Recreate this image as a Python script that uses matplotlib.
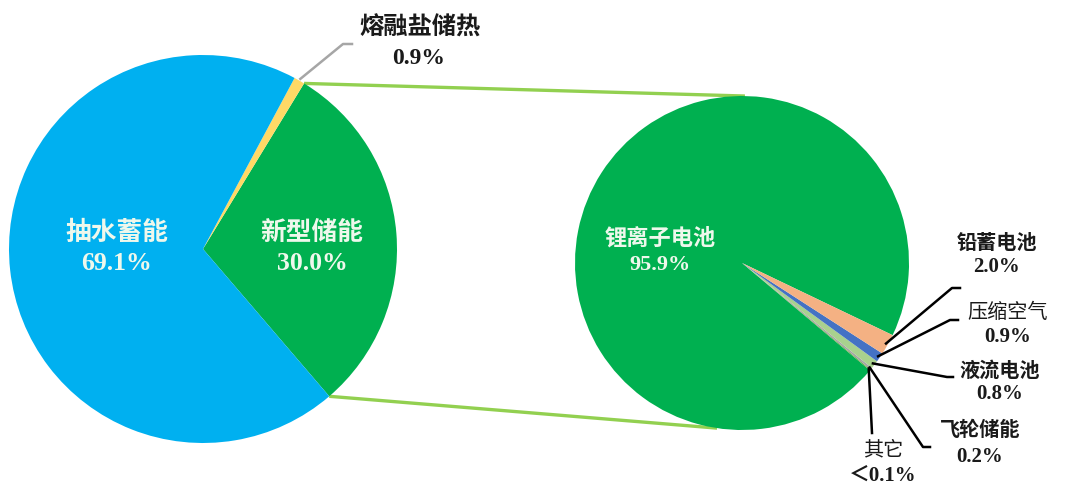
import matplotlib
matplotlib.use("Agg")
import matplotlib.pyplot as plt
import numpy as np

# ---------------- data ----------------
main_labels = ["新型储能", "熔融盐储热", "抽水蓄能"]
main_values = [30.0, 0.9, 69.1]
main_pct_text = ["30.0%", "0.9%", "69.1%"]

sub_labels = ["锂离子电池", "其它", "飞轮储能", "液流电池", "压缩空气", "铅蓄电池"]
sub_values = [95.9, 0.1, 0.2, 0.8, 0.9, 2.0]
sub_pct_text = ["95.9%", "＜0.1%", "0.2%", "0.8%", "0.9%", "2.0%"]

# ---------------- style ----------------
W, H = 1080, 493
main_colors = ["#00B050", "#FFD966", "#00B0F0"]
sub_colors = ["#00B050", "#70AD47", "#A5A5A5", "#A9D18E", "#4472C4", "#F4B183"]
CJK = "Noto Sans CJK SC"
MIX = ["Liberation Serif", "Noto Sans CJK SC"]
INNER = "#EEF8EC"
DARK = "#1A1A1A"
LINK = "#92D050"

fig = plt.figure(figsize=(W / 100, H / 100), dpi=100)
ax = fig.add_axes([0, 0, 1, 1])

# left pie
c1, r1 = (203, 244), 194
w1, _ = ax.pie(main_values, colors=main_colors, startangle=-49.4,
               counterclock=True, center=c1, radius=r1,
               wedgeprops=dict(linewidth=0))
# right pie
c2, r2 = (742, 230), 167
w2, _ = ax.pie(sub_values, colors=sub_colors, startangle=-25.6,
               counterclock=True, center=c2, radius=r2,
               wedgeprops=dict(linewidth=0))

ax.set_xlim(0, W)
ax.set_ylim(0, H)
ax.set_aspect("equal")
ax.axis("off")


def pt(c, r, ang):
    a = np.deg2rad(ang)
    return c[0] + r * np.cos(a), c[1] + r * np.sin(a)


# connecting lines between the green wedge and the right pie
g = w1[0]
p_top = pt(c1, r1, g.theta2)
p_bot = pt(c1, r1, g.theta1)
q_top = pt(c2, r2, 89)
q_bot = pt(c2, r2, -98.6)
ax.plot([p_top[0], q_top[0]], [p_top[1], q_top[1]], color=LINK, lw=2.4,
        solid_capstyle="butt", zorder=0)
ax.plot([p_bot[0], q_bot[0]], [p_bot[1], q_bot[1]], color=LINK, lw=2.4,
        solid_capstyle="butt", zorder=0)

# ---------- labels inside left pie ----------
ax.text(117, 260, main_labels[2], ha="center", va="center", fontsize=18.5,
        fontweight="bold", family=CJK, color=INNER)
ax.text(117, 229, main_pct_text[2], ha="center", va="center", fontsize=18.5,
        fontweight="bold", family=MIX, color=INNER)
ax.text(312, 260, main_labels[0], ha="center", va="center", fontsize=18.5,
        fontweight="bold", family=CJK, color=INNER)
ax.text(312, 229, main_pct_text[0], ha="center", va="center", fontsize=18.5,
        fontweight="bold", family=MIX, color=INNER)

# molten salt label with leader
y_w = w1[1]
ym = (y_w.theta1 + y_w.theta2) / 2
s = pt(c1, r1 + 2, ym)
ax.plot([s[0], 343, 352], [s[1], 449, 449], color="#A6A6A6", lw=1.8, zorder=3)
ax.text(420, 465, main_labels[1], ha="center", va="center", fontsize=17.5,
        fontweight="bold", family=CJK, color=DARK)
ax.text(419, 435, main_pct_text[1], ha="center", va="center", fontsize=17,
        fontweight="bold", family=MIX, color=DARK)

# ---------- labels for right pie ----------
ax.text(660, 255, sub_labels[0], ha="center", va="center", fontsize=16,
        fontweight="bold", family=CJK, color=INNER)
ax.text(660, 228, sub_pct_text[0], ha="center", va="center", fontsize=16,
        fontweight="bold", family=MIX, color=INNER)

# label positions (name, pct), elbow points for leader lines
label_pos = {
    5: ((997, 251), (997, 226), [(952, 205), (960, 205)], "bold"),
    4: ((1008, 181), (1008, 156), [(950, 173), (958, 173)], "normal"),
    3: ((1000, 123), (1000, 99), [(947, 116), (953, 116)], "bold"),
    2: ((980, 63), (980, 36), [(923, 46), (930, 46)], "bold"),
    1: ((883, 43), (883, 17), [(872, 60)], "normal"),
}
for i, (npos, ppos, elbow, wt) in label_pos.items():
    wd = w2[i]
    mid = (wd.theta1 + wd.theta2) / 2
    s = pt(c2, r2 - 2, mid)
    xs = [s[0]] + [e[0] for e in elbow]
    ys = [s[1]] + [e[1] for e in elbow]
    ax.plot(xs, ys, color="black", lw=1.8, zorder=3)
    ax.text(npos[0], npos[1], sub_labels[i], ha="center", va="center",
            fontsize=14.5, fontweight=wt, family=CJK, color=DARK)
    ax.text(ppos[0], ppos[1], sub_pct_text[i], ha="center", va="center",
            fontsize=15, fontweight="bold", family=MIX, color=DARK)

fig.savefig("out.png", dpi=100, facecolor="white")
